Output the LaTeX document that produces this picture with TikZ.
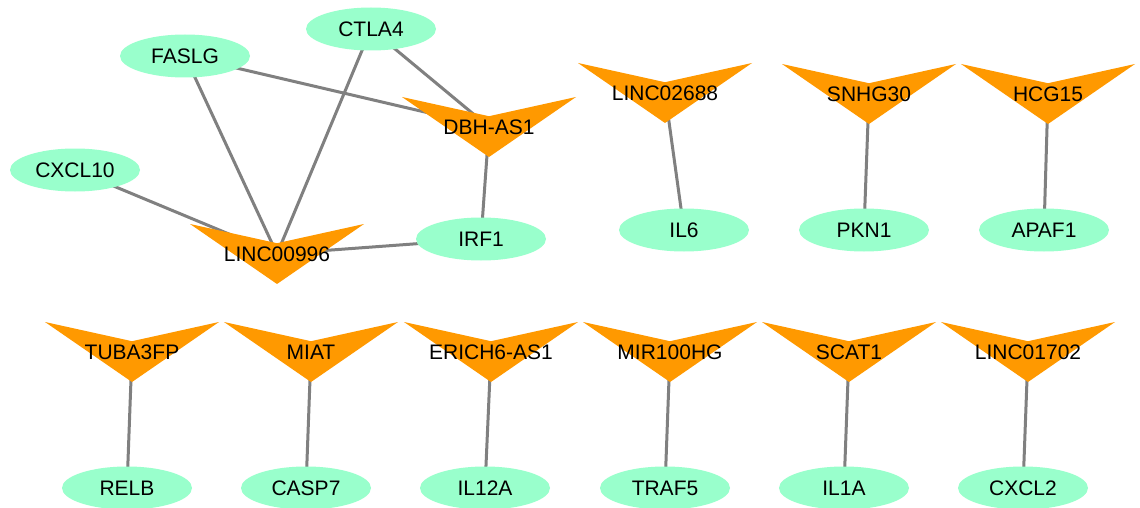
\documentclass[tikz,border=0pt]{standalone}
\usepackage{fontspec}
\setmainfont{Liberation Sans}
\usetikzlibrary{calc,backgrounds,shapes.geometric}

\definecolor{lncorange}{RGB}{255,153,0}
\definecolor{genemint}{RGB}{153,255,204}
\definecolor{edgegray}{RGB}{128,128,128}
\newcommand\genefont{\fontsize{10.5}{12}\selectfont}

\begin{document}
\begin{tikzpicture}[x=0.5pt,y=-0.5pt,
  gene/.style={ellipse,fill=genemint,minimum width=65pt,minimum height=21.5pt,
               inner sep=0pt,font=\genefont},
  lnc/.style={rectangle,draw=none,minimum width=87pt,minimum height=30pt,
              inner sep=0pt,font=\genefont,
    path picture={\fill[lncorange] (path picture bounding box.north west)
      -- ($(path picture bounding box.north)!0.32!(path picture bounding box.south)$)
      -- (path picture bounding box.north east)
      -- (path picture bounding box.south) -- cycle;}},
  link/.style={draw=edgegray,line width=1.5pt}]

\useasboundingbox (0,0) rectangle (1140,508);

% connected cluster
\node[gene] (ctla4) at (371,29) {CTLA4};
\node[gene] (faslg) at (185,56) {FASLG};
\node[gene] (cxcl10) at (75,170) {CXCL10};
\node[gene] (irf1) at (481,239) {IRF1};
\node[lnc] (dbhas1) at (489,127) {DBH-AS1};
\node[lnc] (linc00996) at (277,254) {LINC00996};

% upper pairs
\node[lnc] (linc02688) at (665,93) {LINC02688};
\node[lnc] (snhg30) at (869,94) {SNHG30};
\node[lnc] (hcg15) at (1048,94) {HCG15};
\node[gene] (il6) at (684,230) {IL6};
\node[gene] (pkn1) at (864,230) {PKN1};
\node[gene] (apaf1) at (1044,230) {APAF1};

% lower pairs
\foreach \lx/\gx/\ln/\gn/\lt/\gt in {
    132/127/tuba3fp/relb/TUBA3FP/RELB,
    311/306/miat/casp7/MIAT/CASP7,
    491/485/erich6as1/il12a/ERICH6-AS1/IL12A,
    670/665/mir100hg/traf5/MIR100HG/TRAF5,
    849/844/scat1/il1a/SCAT1/IL1A,
    1028/1023/linc01702/cxcl2/LINC01702/CXCL2} {
  \node[lnc] (\ln) at (\lx,352) {\lt};
  \node[gene] (\gn) at (\gx,488) {\gt};
}

\begin{scope}[on background layer]
\fill[white] (0,0) rectangle (1140,508);
\foreach \a/\b in {cxcl10/linc00996,faslg/linc00996,ctla4/linc00996,
    irf1/linc00996,faslg/dbhas1,ctla4/dbhas1,dbhas1/irf1,
    linc02688/il6,snhg30/pkn1,hcg15/apaf1,tuba3fp/relb,miat/casp7,
    erich6as1/il12a,mir100hg/traf5,scat1/il1a,linc01702/cxcl2}
  \draw[link] (\a.center) -- (\b.center);
\end{scope}
\end{tikzpicture}
\end{document}
